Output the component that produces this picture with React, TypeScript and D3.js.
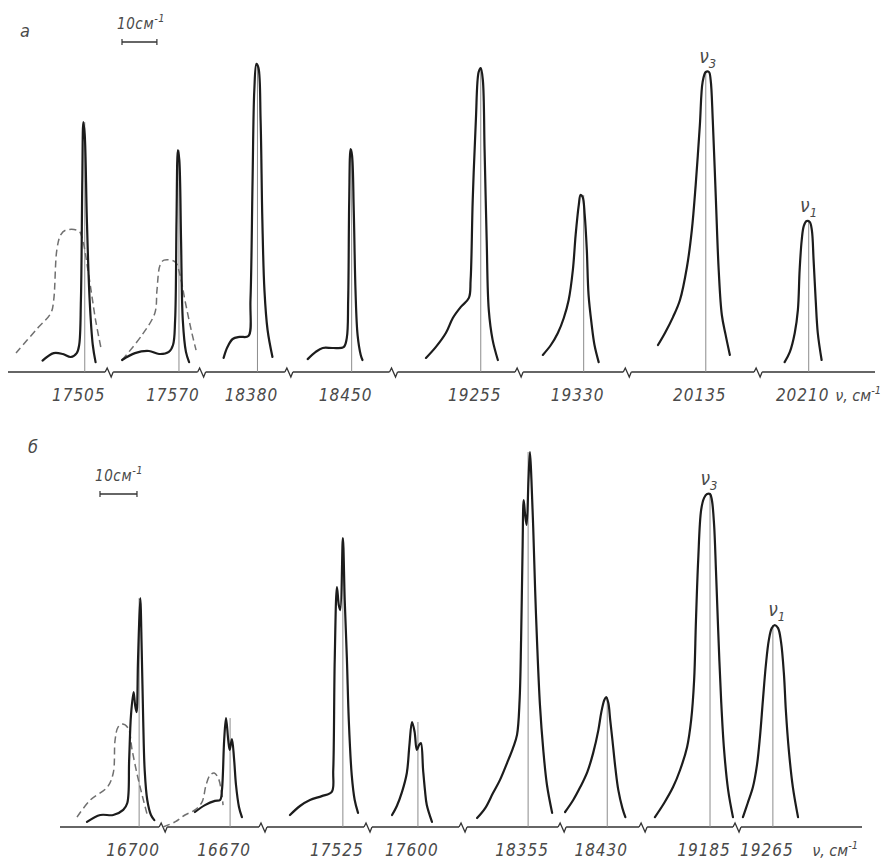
import React from "react";
import * as d3 from "d3";

type Pt = [number, number];

// ---------------- Panel а ----------------
const centersA = [17505, 17570, 18380, 18450, 19255, 19330, 20135, 20210];
const labelsA = ["17505", "17570", "18380", "18450", "19255", "19330", "20135", "20210"];
// visible window of each axis piece, cm^-1 to the left / right of the line
const windowsA: [number, number][] = [
  [22, 7], [20, 6.5], [16, 9], [18, 12], [25, 11], [18.5, 12.5], [22.5, 15], [14.5, 19],
];
const solidA: Pt[][] = [
  [[-12.1, 3.8], [-8.9, 6.3], [-6.3, 6], [-4.0, 5], [-2.3, 6.3], [-1.6, 9], [-1.1, 24], [-0.7, 64], [-0.4, 83.3], [0, 79], [0.6, 51], [1.4, 24], [2.3, 9], [3.1, 3.3]],
  [[-16.3, 4], [-12.6, 6.3], [-8.6, 7], [-5.7, 6], [-2.9, 6.7], [-1.7, 9], [-1.1, 17.3], [-0.7, 50.7], [-0.3, 74], [0.1, 70.7], [0.6, 44], [1.1, 17.3], [2, 6.7], [2.9, 3.3]],
  [[-9.7, 4.7], [-8.6, 8.3], [-7.1, 11], [-5.1, 11.7], [-2.6, 12], [-2, 24], [-1.4, 64], [-0.9, 94], [-0.3, 102.7], [0.3, 101.3], [0.9, 84], [1.4, 50.7], [2, 27.3], [2.9, 14], [4.3, 5]],
  [[-12.6, 4.3], [-10.3, 6.7], [-8.3, 8], [-5.4, 8], [-2.3, 8.3], [-1.4, 11.3], [-1, 24], [-0.7, 57.3], [-0.3, 74.3], [0.1, 72.3], [0.6, 54], [1.1, 27.3], [1.7, 12.3], [2.6, 5.7], [3.1, 4]],
  [[-15.7, 4.7], [-12.9, 8.3], [-10, 13], [-8, 18], [-5.7, 21.7], [-3.4, 24.7], [-2.9, 30.7], [-2.3, 57.3], [-1.4, 84], [-0.6, 100], [0, 101.3], [0.6, 97.3], [1.1, 74], [1.7, 44], [2.3, 20.7], [3.4, 10.7], [4.9, 4]],
  [[-11.7, 5.7], [-9.4, 9], [-7.4, 13], [-5.7, 18], [-4.3, 24], [-3.1, 34], [-2.3, 45.7], [-1.4, 55.7], [-0.9, 59], [-0.3, 58.3], [0.3, 52.3], [0.9, 40.7], [1.4, 25.7], [2.3, 15.7], [3.1, 9], [4.3, 3.3]],
  [[-13.7, 9], [-11.7, 13], [-9.4, 18.3], [-7.4, 24], [-5.4, 35], [-4, 47.3], [-2.9, 62.3], [-1.7, 82.3], [-0.9, 96.7], [0, 100], [0.9, 100], [1.4, 97.3], [2, 84], [2.9, 57.3], [3.7, 34], [4.6, 19], [5.7, 12.3], [6.9, 5.7]],
  [[-6.9, 3.3], [-5.4, 6.7], [-4, 13], [-3.1, 20.7], [-2.6, 34], [-2, 44], [-1.4, 48.7], [-0.6, 50.3], [0.3, 50], [0.9, 47.3], [1.4, 37.3], [2, 24], [2.6, 13], [3.7, 4]],
];
const dashedA: (Pt[] | null)[] = [
  [[-19.7, 6.3], [-14, 14], [-9.7, 19.7], [-8.9, 24], [-8, 40.7], [-6.9, 45.7], [-5.4, 47.3], [-1.7, 47], [-0.6, 44], [0.9, 34], [2, 25.7], [3.1, 17.3], [4.6, 8.3]],
  [[-16.3, 4], [-10.6, 12.3], [-6.9, 19.7], [-6.3, 27.3], [-5.4, 35.7], [-4.3, 37.3], [-1.1, 36.7], [0.3, 32.3], [1.7, 24], [3.7, 13], [4.9, 7.3]],
  null, null, null, null, null, null,
];
const modesA = ["", "", "", "", "", "", "3", "1"];

// ---------------- Panel б ----------------
const centersB = [16700, 16670, 17525, 17600, 18355, 18430, 19185, 19265];
const labelsB = ["16700", "16670", "17525", "17600", "18355", "18430", "19185", "19265"];
const windowsB: [number, number][] = [
  [21.4, 6.5], [18.1, 8.9], [21.6, 6.8], [13.5, 12.2], [17.6, 9.2], [12.2, 9.7], [18.1, 7.3], [9.7, 24.1],
];
const solidB: Pt[][] = [
  [[-14.1, 1.7], [-10.5, 4], [-7, 4], [-4.3, 5.7], [-3.2, 8], [-2.7, 22.3], [-2.2, 37.3], [-1.5, 45], [-1.1, 40.7], [-0.7, 38.3], [-0.3, 55.7], [0.3, 76.3], [0.7, 59], [1.1, 35.7], [1.5, 19], [2.2, 9], [3.2, 4], [4.1, 2.3]],
  [[-9.5, 5], [-6.8, 7.3], [-4.1, 8.7], [-2.7, 9], [-2.2, 12.3], [-1.6, 29], [-1.1, 36.3], [-0.5, 29], [-0.1, 25.7], [0.5, 29.3], [1.1, 22.3], [1.6, 14], [2.4, 6.7], [3.2, 3.3]],
  [[-14.3, 4], [-11.6, 7], [-8.9, 9], [-5.7, 10.3], [-3, 11.7], [-2.6, 19], [-2.2, 55.7], [-1.6, 80], [-1.1, 74], [-0.7, 72.3], [0, 96.3], [0.5, 75.7], [1.1, 55.7], [1.6, 35.7], [2.4, 17.3], [3.2, 9], [4.1, 4.7]],
  [[-7, 4], [-5.7, 7], [-4.3, 11.7], [-3, 18], [-2.3, 27.3], [-1.6, 35], [-0.9, 31.7], [-0.3, 25.7], [0.3, 27.3], [0.8, 28], [1.4, 19], [1.9, 12.3], [2.4, 7.3], [3.8, 1.7]],
  [[-13.8, 3], [-11.6, 6.3], [-9.5, 11.3], [-7.6, 15.7], [-5.7, 21.3], [-4.1, 26.3], [-3, 30.7], [-2.3, 42.3], [-1.9, 62.3], [-1.5, 92.3], [-1.2, 109], [-0.8, 104], [-0.4, 100.7], [0.1, 115.7], [0.5, 125], [0.9, 115.7], [1.4, 99], [1.9, 79], [2.4, 62.3], [3.2, 40.7], [4.1, 25.7], [5.1, 14], [6.5, 4.7]],
  [[-11.4, 5], [-9.2, 9], [-7.3, 13.3], [-5.4, 18.3], [-3.8, 24.7], [-2.4, 32.3], [-1.6, 38.3], [-0.8, 42.3], [-0.3, 43.3], [0.3, 41.3], [0.8, 35.7], [1.4, 29], [2.2, 19.7], [3, 12.3], [4.1, 6.3], [4.9, 3.3]],
  [[-14.9, 3.3], [-12.4, 8], [-10, 13.3], [-8.1, 19], [-6.2, 26.7], [-5.1, 35.7], [-4.3, 49], [-3.8, 69], [-3.2, 89], [-2.4, 105.7], [-1.6, 109.7], [-0.8, 111], [0, 111], [0.5, 109], [1.1, 100.7], [1.6, 85.7], [2.2, 65.7], [3, 42.3], [3.8, 25.7], [4.9, 12.3], [6.2, 3.3]],
  [[-8.1, 3.3], [-6.8, 8], [-5.4, 13.3], [-4.3, 20.7], [-3.5, 30], [-2.7, 42.3], [-1.9, 54], [-1.1, 62.3], [-0.3, 66.3], [0.5, 67.3], [1.4, 66.3], [2.2, 61.7], [3, 50.7], [3.5, 39], [4.3, 25.7], [5.4, 13.3], [6.8, 3.3]],
];
const dashedB: (Pt[] | null)[] = [
  [[-16.8, 3.3], [-13.2, 9], [-8.6, 13.3], [-7, 18], [-6.5, 29], [-5.7, 33.3], [-4.6, 34.3], [-3, 33], [-1.9, 25.7], [-0.5, 17.3], [0.8, 10.7], [2.2, 4]],
  [[-18.1, 0], [-14.9, 1.7], [-12.2, 4], [-9.5, 5.7], [-7.6, 8.3], [-6.5, 14], [-5.4, 17.3], [-4.3, 18], [-3.2, 16.3], [-2.4, 12.3], [-1.9, 7.3]],
  null, null, null, null, null, null,
];
const modesB = ["", "", "", "", "", "", "3", "1"];

const INK = "#1c1c1c";
const GREY = "#8c8c8c";
const TEXT = "#4a4a4a";
const FONT = "'DejaVu Sans Condensed', 'DejaVu Sans', sans-serif";

interface PanelProps {
  letter: string;
  letterPos: [number, number];
  centers: number[];
  labels: string[];
  windows: [number, number][];
  solid: Pt[][];
  dashed: (Pt[] | null)[];
  modes: string[];
  x0: number;
  x1: number;
  baseY: number;
  unitPx: number; // px per intensity unit
  barPos: [number, number];
  unitX: number;
}

function Panel(p: PanelProps) {
  const total = d3.sum(p.windows, (w) => w[0] + w[1]);
  const cum = d3.scaleLinear().domain([0, total]).range([p.x0, p.x1]);
  let acc = 0;
  const segs = p.windows.map((w, i) => {
    const start = acc;
    acc += w[0] + w[1];
    return d3
      .scaleLinear()
      .domain([p.centers[i] - w[0], p.centers[i] + w[1]])
      .range([cum(start), cum(acc)]);
  });
  const y = d3.scaleLinear().domain([0, 100]).range([p.baseY, p.baseY - 100 * p.unitPx]);
  const gap = 4;
  const barLen = cum(10) - cum(0);
  const [bx, by] = p.barPos;

  return (
    <g>
      <text x={p.letterPos[0]} y={p.letterPos[1]} fontFamily={FONT} fontStyle="italic" fontSize={18} fill={TEXT}>
        {p.letter}
      </text>
      {/* scale bar */}
      <text x={bx - 5} y={by - 13} fontFamily={FONT} fontStyle="italic" fontSize={15} letterSpacing={0.6} fill={TEXT}>
        10см
        <tspan fontSize={11} dy={-7}>-1</tspan>
      </text>
      <g stroke="#333" strokeWidth={1.6}>
        <line x1={bx} x2={bx + barLen} y1={by} y2={by} />
        <line x1={bx} x2={bx} y1={by - 3} y2={by + 3} strokeWidth={1.2} />
        <line x1={bx + barLen} x2={bx + barLen} y1={by - 3} y2={by + 3} strokeWidth={1.2} />
      </g>

      {segs.map((s, i) => {
        const r = s.range();
        const xa = i === 0 ? r[0] : r[0] + gap;
        const xb = i === segs.length - 1 ? r[1] : r[1] - gap;
        const line = d3
          .line<Pt>()
          .x((d) => s(p.centers[i] + d[0]))
          .y((d) => y(d[1]))
          .curve(d3.curveCatmullRom.alpha(0.5));
        const peak = p.solid[i].reduce((a, b) => (b[1] > a[1] ? b : a));
        const cx = s(p.centers[i]);
        const dash = p.dashed[i];
        return (
          <g key={i}>
            <line x1={xa} x2={xb} y1={p.baseY} y2={p.baseY} stroke="#333" strokeWidth={1.3} />
            {i > 0 && (
              <path
                d={`M${r[0] - gap},${p.baseY} L${r[0] - 2},${p.baseY - 4} L${r[0] + 2},${p.baseY + 5} L${r[0] + gap},${p.baseY}`}
                fill="none"
                stroke="#333"
                strokeWidth={1.3}
              />
            )}
            <line x1={cx} x2={cx} y1={p.baseY} y2={y(peak[1])} stroke={GREY} strokeWidth={1} />
            {dash && (
              <path d={line(dash) || ""} fill="none" stroke="#707070" strokeWidth={1.5} strokeDasharray="7 4" />
            )}
            <path d={line(p.solid[i]) || ""} fill="none" stroke={INK} strokeWidth={2.2} strokeLinejoin="round" strokeLinecap="round" />
            <text
              x={cx - 6}
              y={p.baseY + 29}
              textAnchor="middle"
              fontFamily={FONT}
              fontStyle="italic"
              fontSize={17}
              letterSpacing={1}
              fill={TEXT}
            >
              {p.labels[i]}
            </text>
            {p.modes[i] && (
              <text
                x={s(p.centers[i] + peak[0]) + 2}
                y={y(peak[1]) - 9}
                textAnchor="middle"
                fontFamily={FONT}
                fontStyle="italic"
                fontSize={19}
                fill={TEXT}
              >
                ν<tspan fontSize={13} dy={5}>{p.modes[i]}</tspan>
              </text>
            )}
          </g>
        );
      })}
      <text x={p.unitX} y={p.baseY + 29} textAnchor="end" fontFamily={FONT} fontStyle="italic" fontSize={16} fill={TEXT}>
        ν, см<tspan fontSize={11} dy={-7}>-1</tspan>
      </text>
    </g>
  );
}

export default function App() {
  return (
    <svg
      width={884}
      height={862}
      viewBox="0 0 884 862"
      style={{ position: "absolute", left: 0, top: 0, background: "#fff" }}
    >
      <rect width={884} height={862} fill="#fff" />
      <Panel
        letter="а"
        letterPos={[20, 37]}
        centers={centersA}
        labels={labelsA}
        windows={windowsA}
        solid={solidA}
        dashed={dashedA}
        modes={modesA}
        x0={8}
        x1={875}
        baseY={372}
        unitPx={3}
        barPos={[122, 42]}
        unitX={881}
      />
      <Panel
        letter="б"
        letterPos={[28, 453]}
        centers={centersB}
        labels={labelsB}
        windows={windowsB}
        solid={solidB}
        dashed={dashedB}
        modes={modesB}
        x0={60}
        x1={862}
        baseY={827}
        unitPx={3}
        barPos={[100, 494]}
        unitX={858}
      />
    </svg>
  );
}
